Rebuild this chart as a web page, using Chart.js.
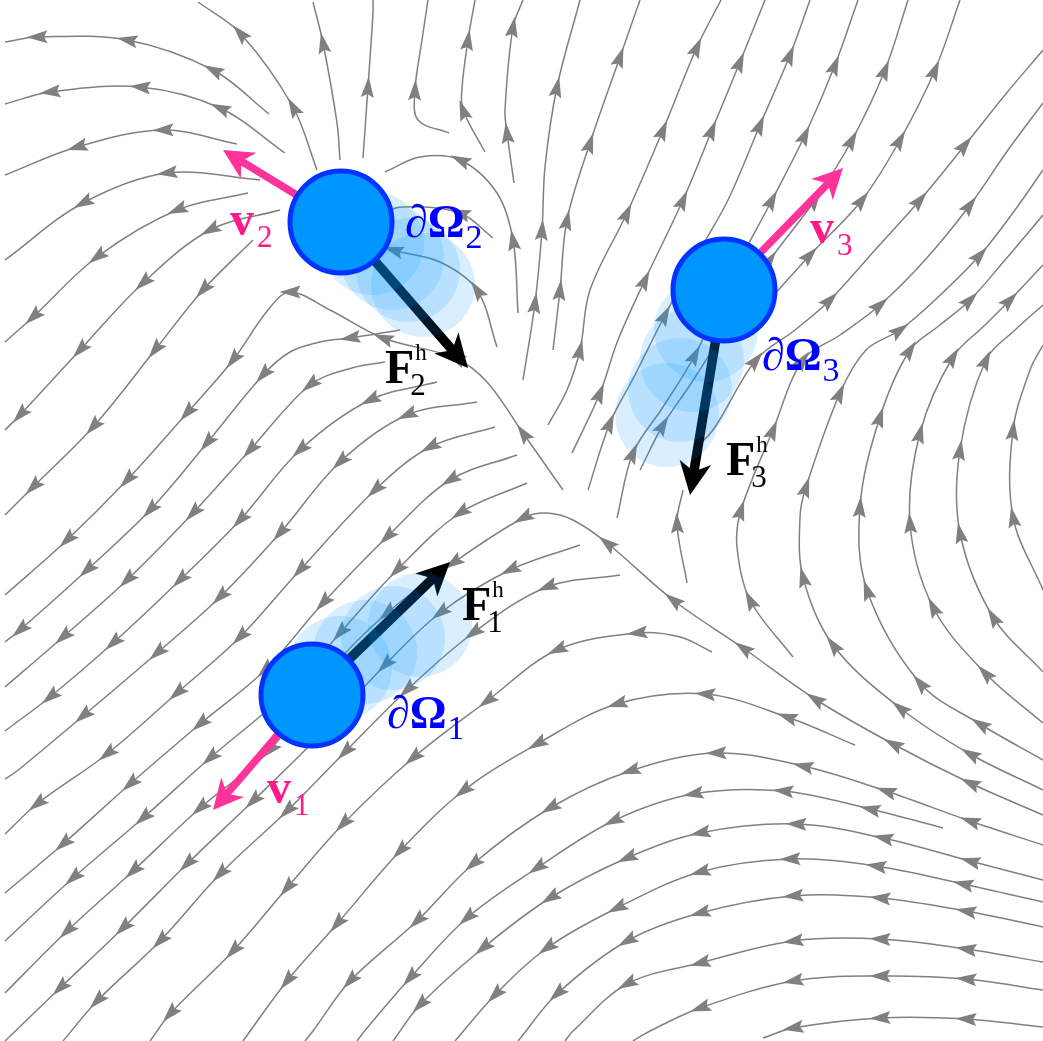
<!DOCTYPE html>
<html>
<head>
<meta charset="utf-8">
<title>Flow field around three moving particles</title>
<script src="https://cdn.jsdelivr.net/npm/chart.js@4.4.1/dist/chart.umd.min.js"></script>
<style>
html,body{margin:0;padding:0;background:#ffffff;overflow:hidden;}
#box{position:relative;width:1043px;height:1041px;}
canvas{display:block;}
</style>
</head>
<body>
<div id="box"><canvas id="chart" width="1043" height="1041"></canvas></div>
<script>
// ---------------- data (chart units = reference pixels, y downwards) ----------------
const particleNames = ['1', '2', '3'];
const particleX = [312, 341, 724];
const particleY = [695, 222, 290];

// earlier positions of the particles (ghosts)
const ghostX = [340, 365, 393, 420, 372, 392, 408, 423, 706, 692, 680, 667];
const ghostY = [668, 652, 638, 625, 243, 258, 270, 285, 330, 360, 390, 415];

// hydrodynamic force vectors: from particle centre to tip
const forceTipX = [450, 468, 690];
const forceTipY = [562, 368, 495];
// velocity vectors: from particle centre to tip
const velocityTipX = [213, 223, 843];
const velocityTipY = [810, 150, 168];

// label anchors (baseline-left of main glyph)
const boundaryLabelX = [387, 405, 762];
const boundaryLabelY = [728, 237, 370];
const velocityLabelX = [267, 230, 810];
const velocityLabelY = [803, 235, 243];
const forceLabelX = [462, 385, 726];
const forceLabelY = [620, 383, 475];

// streamlines, each listed in the direction of flow
const streamsUpperLeft = [
  [[269,114],[213,70],[127,40],[37,37],[5,42]],
  [[317,170],[293,107],[240,33],[198,2]],
  [[340,160],[337,123],[323,43],[313,2]],
  [[285,153],[220,108],[140,87],[50,92],[5,104]],
  [[237,144],[163,130],[77,147],[5,175]],
  [[260,180],[167,173],[83,203],[5,260]],
  [[248,193],[177,210],[97,257],[33,317],[5,342]],
  [[280,210],[210,230],[143,283],[80,350],[20,415],[5,430]],
  [[253,240],[203,290],[155,350],[93,427],[33,487],[5,515]],
  [[563,490],[523,433],[487,382],[455,358],[383,338],[330,310],[290,292],[268,310],[233,360],[187,413],[127,480],[67,540],[5,595]],
  [[400,330],[350,338],[320,342],[290,352],[263,375],[207,443],[150,510],[87,570],[20,630],[5,642]]
];
const streamsUpperMiddle = [
  [[363,158],[368,87],[373,13],[373,0]],
  [[449,133],[418,120],[415,90],[422,40],[428,0]],
  [[485,152],[463,110],[462,88],[468,40],[475,0]],
  [[514,183],[507,133],[505,110],[513,27],[523,0]],
  [[518,313],[513,240],[497,193],[460,160],[420,157],[385,172]],
  [[493,238],[460,213],[403,207],[375,215]],
  [[497,347],[477,290],[440,262],[393,250],[370,240]]
];
const streamsCentre = [
  [[385,362],[352,368],[310,385],[250,450],[193,513],[127,580],[63,637],[5,687]],
  [[437,382],[370,400],[300,450],[240,520],[180,580],[113,643],[50,697],[5,731]],
  [[477,402],[407,415],[340,462],[280,533],[220,597],[157,653],[83,716],[17,771],[5,779]],
  [[495,427],[430,447],[375,490],[300,570],[240,637],[177,693],[107,754],[37,804],[5,834]],
  [[517,455],[450,480],[387,537],[323,603],[265,670],[200,724],[130,784],[63,844],[5,893]],
  [[527,483],[460,513],[397,570],[340,633],[290,690],[210,758],[143,818],[73,878],[5,941]],
  [[1043,815],[970,783],[893,744],[815,699],[743,648],[673,600],[607,543],[573,520],[547,513],[523,518],[453,563],[387,613],[330,670],[270,750],[200,808],[133,871],[67,931],[5,993]],
  [[580,545],[510,570],[440,613],[385,665],[320,735],[253,801],[187,864],[123,928],[60,988],[5,1041]],
  [[620,575],[547,587],[473,633],[407,690],[345,752],[287,811],[220,874],[160,941],[97,1001],[63,1041]],
  [[712,652],[680,637],[637,633],[557,650],[487,701],[413,758],[343,824],[287,888],[233,951],[170,1014],[150,1041]],
  [[855,745],[787,717],[705,694],[617,704],[537,744],[463,791],[400,851],[337,924],[287,981],[243,1041]]
];
const streamsLower = [
  [[1043,845],[970,821],[886,791],[803,766],[716,753],[630,771],[550,808],[473,864],[417,921],[350,981],[313,1031],[305,1041]],
  [[943,828],[870,809],[783,791],[693,794],[613,821],[537,868],[467,918],[410,978],[367,1028],[357,1041]],
  [[1043,880],[970,861],[883,838],[796,824],[700,833],[627,858],[550,898],[483,948],[420,1005],[393,1041]],
  [[1043,902],[963,884],[876,866],[790,859],[700,872],[617,908],[547,948],[495,995],[455,1041]],
  [[1043,927],[966,911],[880,898],[793,896],[700,913],[627,941],[557,994],[518,1041]],
  [[1043,962],[966,949],[880,939],[793,941],[700,963],[627,984],[573,1031],[565,1041]],
  [[1043,990],[966,979],[880,976],[793,981],[700,1008],[650,1031],[633,1041]],
  [[1043,1027],[966,1019],[880,1018],[793,1028],[763,1038]]
];
const streamsUpperRight = [
  [[523,380],[535,303],[542,230],[545,167],[557,87],[580,0]],
  [[553,350],[560,290],[567,220],[590,143],[620,57],[640,0]],
  [[548,425],[567,390],[580,350],[590,290],[627,213],[663,130],[697,47],[721,0]],
  [[572,453],[600,393],[618,340],[645,280],[683,200],[712,130],[740,62],[765,0]],
  [[588,490],[610,423],[635,375],[665,315],[700,250],[728,200],[760,125],[790,55],[810,0]],
  [[617,518],[633,453],[663,407],[695,355],[735,270],[772,200],[805,135],[835,65],[858,0]],
  [[640,470],[663,425],[690,385],[725,330],[770,260],[815,200],[852,140],[885,70],[908,0]],
  [[765,305],[810,255],[862,200],[900,140],[935,70],[960,0]],
  [[693,450],[713,430],[756,360],[795,330],[830,300],[875,250],[920,200],[965,145],[1005,95],[1043,50]]
];
const streamsRight = [
  [[687,583],[677,523],[683,490]],
  [[793,657],[750,600],[737,547],[741,510],[773,430],[803,360],[840,335],[880,305],[925,260],[970,205],[1008,150],[1043,103]],
  [[1043,790],[970,754],[900,708],[833,645],[803,577],[800,517],[806,487],[840,393],[866,350],[900,330],[935,300],[980,255],[1015,210],[1043,170]],
  [[1043,760],[980,724],[920,683],[867,590],[860,507],[880,417],[910,350],[940,325],[970,300],[1005,260],[1043,215]],
  [[1043,723],[985,673],[933,607],[910,523],[920,433],[953,357],[985,325],[1010,300],[1043,265]],
  [[1043,672],[993,617],[960,533],[960,450],[986,360],[1015,330],[1043,305]],
  [[1043,590],[1013,517],[1013,430],[1030,370],[1043,345]]
];

// ---------------- styles ----------------
const STREAM_COLOR = '#808080';
const PARTICLE_FILL = '#0096ff';
const PARTICLE_EDGE = '#0033ff';
const GHOST_FILL = 'rgba(0,150,255,0.15)';
const PARTICLE_R = 51;
const VEL_COLOR = '#ff3399';
const VEL_TEXT = '#ff1a8c';
const OMEGA_COLOR = '#0000ff';
const SERIF = '"Liberation Serif", "DejaVu Serif", serif';

const allStreams = [].concat(streamsUpperLeft, streamsUpperMiddle, streamsCentre, streamsLower, streamsUpperRight, streamsRight);

const streamSets = allStreams.map(s => ({
  type: 'scatter',
  data: s.map(p => ({x: p[0], y: p[1]})),
  showLine: true,
  borderColor: STREAM_COLOR,
  borderWidth: 1.5,
  pointRadius: 0,
  tension: 0.35,
  fill: false,
  order: 10,
  role: 'stream',
  raw: s
}));

const ghostSet = {
  type: 'bubble',
  data: ghostX.map((x, i) => ({x: x, y: ghostY[i], r: PARTICLE_R + 1})),
  backgroundColor: GHOST_FILL,
  borderWidth: 0,
  order: 5,
  role: 'ghost'
};

const particleSet = {
  type: 'bubble',
  data: particleX.map((x, i) => ({x: x, y: particleY[i], r: PARTICLE_R})),
  backgroundColor: PARTICLE_FILL,
  borderColor: PARTICLE_EDGE,
  borderWidth: 5,
  order: 1,
  role: 'particle'
};

// ---------------- drawing helpers ----------------
function px(chart, x, y) {
  return [chart.scales.x.getPixelForValue(x), chart.scales.y.getPixelForValue(y)];
}

function smallHead(c, x, y, ang, len, hw, notch) {
  c.save();
  c.translate(x, y);
  c.rotate(ang);
  c.beginPath();
  c.moveTo(len / 2, 0);
  c.lineTo(-len / 2, hw);
  c.lineTo(-len / 2 + notch, 0);
  c.lineTo(-len / 2, -hw);
  c.closePath();
  c.fill();
  c.restore();
}

function drawStreamHeads(chart, pts) {
  const c = chart.ctx;
  const p = pts.map(q => px(chart, q[0], q[1]));
  const cum = [0];
  for (let i = 1; i < p.length; i++) {
    cum.push(cum[i - 1] + Math.hypot(p[i][0] - p[i - 1][0], p[i][1] - p[i - 1][1]));
  }
  const total = cum[cum.length - 1];
  let last = null;
  c.save();
  c.fillStyle = STREAM_COLOR;
  for (let i = 1; i < p.length - 1; i++) {
    const d = cum[i];
    const need = last === null ? 40 : 68;
    const since = last === null ? d : d - last;
    if (since >= need && total - d >= 18) {
      const ang = Math.atan2(p[i + 1][1] - p[i - 1][1], p[i + 1][0] - p[i - 1][0]);
      smallHead(c, p[i][0], p[i][1], ang, 21, 6.5, 3.5);
      last = d;
    }
  }
  c.restore();
}

function thickArrow(c, x0, y0, x1, y1, w, L, H, color) {
  const a = Math.atan2(y1 - y0, x1 - x0);
  const ux = Math.cos(a), uy = Math.sin(a);
  const bx = x1 - ux * L * 0.7, by = y1 - uy * L * 0.7;
  c.save();
  c.strokeStyle = color;
  c.fillStyle = color;
  c.lineWidth = w;
  c.lineCap = 'butt';
  c.beginPath();
  c.moveTo(x0, y0);
  c.lineTo(bx, by);
  c.stroke();
  c.beginPath();
  c.moveTo(x1, y1);
  c.lineTo(x1 - ux * L - uy * H, y1 - uy * L + ux * H);
  c.lineTo(x1 - ux * L * 0.72, y1 - uy * L * 0.72);
  c.lineTo(x1 - ux * L + uy * H, y1 - uy * L - ux * H);
  c.closePath();
  c.fill();
  c.restore();
}

function drawForces(chart) {
  const c = chart.ctx;
  for (let i = 0; i < particleX.length; i++) {
    const a = px(chart, particleX[i], particleY[i]);
    const b = px(chart, forceTipX[i], forceTipY[i]);
    thickArrow(c, a[0], a[1], b[0], b[1], 9.5, 33, 16, '#000000');
  }
}

function drawVelocities(chart) {
  const c = chart.ctx;
  for (let i = 0; i < particleX.length; i++) {
    const a = px(chart, particleX[i], particleY[i]);
    const b = px(chart, velocityTipX[i], velocityTipY[i]);
    thickArrow(c, a[0], a[1], b[0], b[1], 7.5, 30, 15, VEL_COLOR);
  }
}

function drawLabels(chart) {
  const c = chart.ctx;
  c.save();
  c.textBaseline = 'alphabetic';
  c.textAlign = 'left';
  for (let i = 0; i < particleNames.length; i++) {
    // boundary label  ∂Ω_i
    let p = px(chart, boundaryLabelX[i], boundaryLabelY[i]);
    c.fillStyle = OMEGA_COLOR;
    c.font = '46px ' + SERIF;
    c.fillText('\u2202', p[0], p[1]);
    let w = c.measureText('\u2202').width;
    c.font = 'bold 46px ' + SERIF;
    c.fillText('\u03A9', p[0] + w, p[1]);
    w += c.measureText('\u03A9').width;
    c.font = '34px ' + SERIF;
    c.fillText(particleNames[i], p[0] + w + 1, p[1] + 11);

    // velocity label  v_i
    p = px(chart, velocityLabelX[i], velocityLabelY[i]);
    c.fillStyle = VEL_TEXT;
    c.font = 'bold 48px ' + SERIF;
    c.fillText('v', p[0], p[1]);
    w = c.measureText('v').width;
    c.font = '31px ' + SERIF;
    c.fillText(particleNames[i], p[0] + w + 3, p[1] + 12);

    // force label  F_i^h
    p = px(chart, forceLabelX[i], forceLabelY[i]);
    c.fillStyle = '#000000';
    c.font = 'bold 48px ' + SERIF;
    c.fillText('F', p[0], p[1]);
    w = c.measureText('F').width;
    c.font = '23px ' + SERIF;
    c.fillText('h', p[0] + w + 1, p[1] - 23);
    c.font = '31px ' + SERIF;
    c.fillText(particleNames[i], p[0] + w - 4, p[1] + 12);
  }
  c.restore();
}

const flowPlugin = {
  id: 'flowDecor',
  beforeDatasetDraw(chart, args) {
    const ds = chart.data.datasets[args.index];
    if (ds.role === 'ghost') drawForces(chart);
    if (ds.role === 'particle') drawVelocities(chart);
  },
  afterDatasetDraw(chart, args) {
    const ds = chart.data.datasets[args.index];
    if (ds.role === 'stream') drawStreamHeads(chart, ds.raw);
  },
  afterDraw(chart) {
    drawLabels(chart);
  }
};

new Chart(document.getElementById('chart'), {
  type: 'scatter',
  data: { datasets: streamSets.concat([ghostSet, particleSet]) },
  options: {
    responsive: false,
    maintainAspectRatio: false,
    animation: false,
    devicePixelRatio: 1,
    events: [],
    layout: { padding: 0, autoPadding: false },
    scales: {
      x: { type: 'linear', min: 0, max: 1043, display: false, offset: false },
      y: { type: 'linear', min: 0, max: 1041, reverse: true, display: false, offset: false }
    },
    plugins: {
      legend: { display: false },
      tooltip: { enabled: false },
      title: { display: false }
    }
  },
  plugins: [flowPlugin]
});
</script>
</body>
</html>
